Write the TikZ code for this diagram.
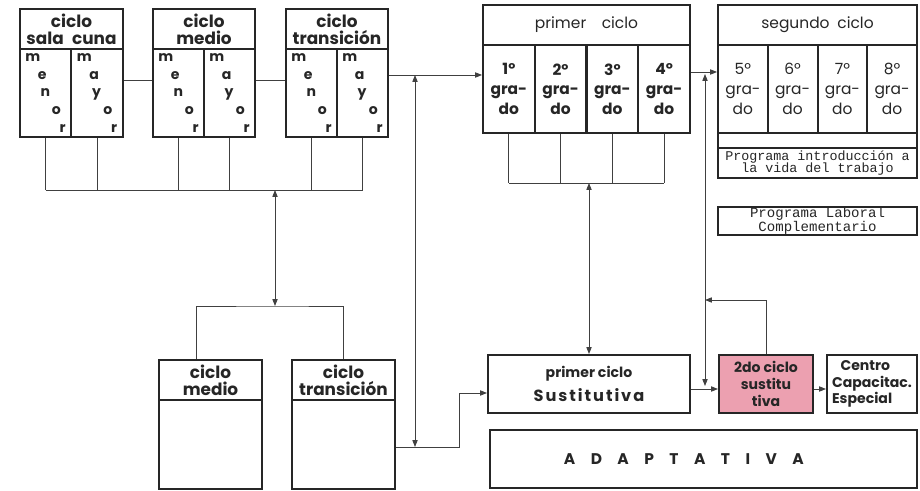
\documentclass[tikz,border=0pt]{standalone}
\usepackage{fontspec}
\setmainfont{Poppins}
\newfontfamily\typefont{Liberation Mono}
\usepackage{tikz}
\usetikzlibrary{calc,arrows.meta}
\definecolor{rosa}{RGB}{236,160,176}
\newcommand{\pxl}{0.025cm}
\newcommand{\stair}[5]{#1\\\hspace*{0.9em}#2\\\hspace*{1.1em}#3\\\hspace*{1.9em}#4\\\hspace*{2.45em}#5}

\begin{document}
\begin{tikzpicture}[x=0.025cm, y=-0.025cm, font=\bfseries\fontsize{12}{12}\selectfont,
      box/.style={draw=black!85, line width=1.4pt, inner sep=0pt, align=center, text=black!85},
      sz/.style 2 args={minimum width=#1*\pxl, minimum height=#2*\pxl},
      col/.style={box, sz={51}{88}, align=left, font=\bfseries\fontsize{10}{12.5}\selectfont},
      grade/.style={box, sz={51.75}{88}, font=\bfseries\fontsize{11}{14}\selectfont},
      gradeb/.style={box, sz={49.75}{88}, font=\mdseries\fontsize{11}{14}\selectfont},
      conn/.style={line width=0.6pt, black!75},
      arr/.style={conn, -{Triangle[length=1.7mm, width=1.3mm]}},
      darr/.style={conn, {Triangle[length=1.7mm, width=1.3mm]}-{Triangle[length=1.7mm, width=1.3mm]}}]
    \useasboundingbox (0,0) rectangle (920,491);
    % ciclos de arriba
    \node[box, sz={103}{40}] (salaH) at (71.5,29) {ciclo\\sala\enspace cuna};
    \node[col] (salaMen) at (45.5,93) {\stair{m}{e}{n}{o}{r}};
    \node[col, sz={52}{88}] (salaMay) at (97,93) {\stair{m}{a}{y}{o}{r}};
    \node[box, sz={102}{40}] (medioH) at (204,29) {ciclo\\medio};
    \node[col] (medioMen) at (178.5,93) {\stair{m}{e}{n}{o}{r}};
    \node[col] (medioMay) at (229.5,93) {\stair{m}{a}{y}{o}{r}};
    \node[box, sz={102}{40}] (transH) at (337,29) {ciclo\\transición};
    \node[col] (transMen) at (311.5,93) {\stair{m}{e}{n}{o}{r}};
    \node[col] (transMay) at (362.5,93) {\stair{m}{a}{y}{o}{r}};
    % primer y segundo ciclo
    \node[box, sz={207}{40}, font=\mdseries\fontsize{11}{12}\selectfont] (primH) at (586.5,25) {primer\quad ciclo};
    \node[grade] (g1) at (508.9,89) {1º\\gra-\\do};
    \node[grade] (g2) at (560.6,89) {2º\\gra-\\do};
    \node[grade] (g3) at (612.4,89) {3º\\gra-\\do};
    \node[grade] (g4) at (664.1,89) {4º\\gra-\\do};
    \node[box, sz={199}{40}, font=\mdseries\fontsize{11}{12}\selectfont] (segH) at (817.5,25) {segundo\enspace ciclo};
    \node[gradeb] (s5) at (742.9,89) {5º\\gra-\\do};
    \node[gradeb] (s6) at (792.6,89) {6º\\gra-\\do};
    \node[gradeb] (s7) at (842.4,89) {7º\\gra-\\do};
    \node[gradeb] (s8) at (892.1,89) {8º\\gra-\\do};
    \node[box, sz={199}{15}] (segStrip) at (817.5,140.5) {};
    \node[box, sz={199}{30}, font=\typefont\mdseries\fontsize{9.5}{9}\selectfont] (progVida) at (817.5,163) {Programa introducción a\\la vida del trabajo};
    \node[box, sz={199}{28}, font=\typefont\mdseries\fontsize{10}{8}\selectfont] (progLab) at (817.5,221) {Programa Laboral\\Complementario};
    % ciclos de abajo
    \node[box, sz={103}{40}] (medio2H) at (210.5,380) {ciclo\\medio};
    \node[box, sz={103}{89}] (medio2B) at (210.5,444.5) {};
    \node[box, sz={103}{40}] (trans2H) at (343.5,380) {ciclo\\transición};
    \node[box, sz={103}{89}] (trans2B) at (343.5,444.5) {};
    \node[box, sz={202}{58}, font=\bfseries\fontsize{10}{12}\selectfont] (sust) at (589,384) {primer ciclo\\[5pt]{\fontsize{11.5}{13}\selectfont\addfontfeature{LetterSpace=12}Sustitutiva}};
    \node[box, sz={94}{58}, fill=rosa, font=\bfseries\fontsize{10}{12}\selectfont] (sust2) at (766,384) {2do ciclo\\sustitu\\tiva};
    \node[box, sz={90}{58}, align=left, font=\bfseries\fontsize{10}{12}\selectfont] (centro) at (872,384) {\hspace*{0.6em}Centro\\Capacitac.\\Especial};
    \node[box, sz={427}{58}, font=\bfseries\fontsize{11}{12}\selectfont] (adapt) at (703.5,459) {A\quad D\quad A\quad P\quad T\quad A\quad T\quad I\quad V\quad A\hspace*{28pt}};
    % enlaces de arriba
    \draw[conn] (salaMay.east |- 0,80) -- (medioMen.west |- 0,80);
    \draw[conn] (medioMay.east |- 0,80) -- (transMen.west |- 0,80);
    \draw[arr] (transMay.east |- 0,75) -- (g1.west |- 0,75);
    \draw[arr] (g4.east |- 0,72) -- (s5.west |- 0,72);
    % barra de los ciclos
    \coordinate (busA) at (275,190);
    \foreach \n in {salaMen,salaMay,medioMen,medioMay,transMen,transMay}
      \draw[conn] (\n.south) -- (\n.south |- busA);
    \draw[conn] (salaMen.south |- busA) -- (transMay.south |- busA);
    \coordinate (busB) at (275,306);
    \draw[darr] (busA) -- (busB);
    \draw[conn] (medio2H.north -| 196,0) |- (busB) -| (trans2H.north);
    % bajada al primer ciclo sustitutiva
    \coordinate (jTop) at (415,75);
    \coordinate (jBot) at (415,447);
    \draw[darr] (jTop) -- (jBot);
    \coordinate (sustIn) at ($(sust.north west)!0.65!(sust.south west)$);
    \draw[arr] (trans2B.east |- jBot) -- ++(63,0) |- (sustIn);
    % barra de los grados
    \coordinate (busC) at (589,183);
    \foreach \n in {g1,g2,g3,g4}
      \draw[conn] (\n.south) -- (\n.south |- busC);
    \draw[conn] (g1.south |- busC) -- (g4.south |- busC);
    \draw[darr] (busC) -- (sust.north);
    % lado derecho
    \coordinate (kTop) at (705,74);
    \coordinate (kBot) at (705,386);
    \draw[darr] (kTop) -- (kBot);
    \draw[arr] (sust.east |- 0,389) -- (sust2.west |- 0,389);
    \draw[arr] (sust2.north) |- (kTop |- 0,300);
    \draw[arr] (sust2.east |- 0,389) -- (centro.west |- 0,389);
\end{tikzpicture}
\end{document}
